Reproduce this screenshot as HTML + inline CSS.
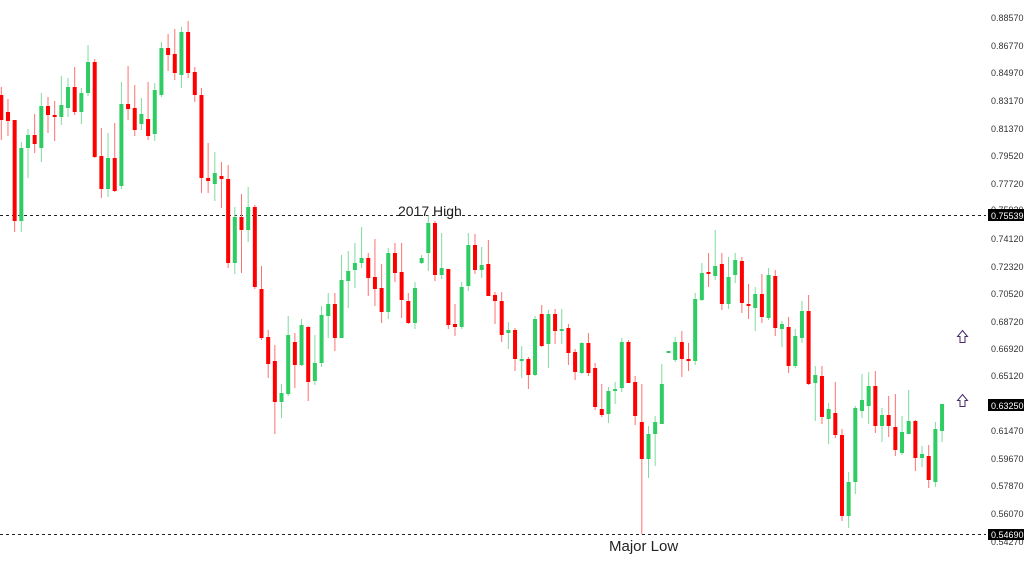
<!DOCTYPE html>
<html><head><meta charset="utf-8"><style>
html,body{margin:0;padding:0;background:#fff;}
svg{display:block;font-family:"Liberation Sans",sans-serif;}
</style></head><body>
<svg id="c" width="1024" height="565" viewBox="0 0 1024 565" xmlns="http://www.w3.org/2000/svg">
<rect width="1024" height="565" fill="#fff"/>
<line x1="0" y1="215.5" x2="986" y2="215.5" stroke="#222" stroke-dasharray="3,3" stroke-width="1"/>
<line x1="0" y1="534.5" x2="986" y2="534.5" stroke="#222" stroke-dasharray="3,3" stroke-width="1"/>
<g id="cd"></g>
<text x="398" y="216" font-size="14" fill="#222">2017 High</text>
<text x="609" y="551" font-size="15" fill="#222">Major Low</text>
<polygon points="962.5,330.5 967.5,336.5 965,336.5 965,342.5 960,342.5 960,336.5 957.5,336.5" fill="#fff" stroke="#4a2a6a" stroke-width="1"/>
<polygon points="962.5,394.5 967.5,400.5 965,400.5 965,406.5 960,406.5 960,400.5 957.5,400.5" fill="#fff" stroke="#4a2a6a" stroke-width="1"/>
<g font-size="9" fill="#333">
<text x="991" y="21">0.88570</text>
<text x="991" y="49">0.86770</text>
<text x="991" y="76">0.84970</text>
<text x="991" y="104">0.83170</text>
<text x="991" y="132">0.81370</text>
<text x="991" y="159">0.79520</text>
<text x="991" y="187">0.77720</text>
<text x="991" y="213">0.75920</text>
<text x="991" y="242">0.74120</text>
<text x="991" y="270">0.72320</text>
<text x="991" y="297">0.70520</text>
<text x="991" y="325">0.68720</text>
<text x="991" y="352">0.66920</text>
<text x="991" y="379">0.65120</text>
<text x="991" y="434">0.61470</text>
<text x="991" y="462">0.59670</text>
<text x="991" y="489">0.57870</text>
<text x="991" y="517">0.56070</text>
<text x="991" y="545">0.54270</text>
</g>
<rect x="988" y="209" width="36" height="12" fill="#000"/>
<text x="991" y="219" font-size="9" fill="#fff">0.75539</text>
<rect x="988" y="399" width="36" height="12" fill="#000"/>
<text x="991" y="409" font-size="9" fill="#fff">0.63250</text>
<rect x="988" y="529" width="36" height="11" fill="#000"/>
<text x="991" y="538" font-size="9" fill="#fff">0.54690</text>
</svg>
<script>
var d=[
"r,95,120,87,140","r,112,121,99,136","r,120,221,120,232","g,148,221,142,232","g,135,148,129,178",
"r,135,144,114,153","g,106,148,93,162","r,106,115,97,133","r,115,117,101,141","g,105,117,76,125",
"g,87,108,78,117","r,87,112,67,115","g,93,112,88,124","g,62,93,45,96","r,62,157,59,158",
"r,156,189,128,198","g,158,189,133,197","r,158,191,123,192","g,104,186,82,189","r,104,109,66,120",
"r,108,130,85,136","g,114,124,98,130","r,119,136,82,140","g,90,134,83,141","g,48,95,42,97",
"r,48,55,34,71","r,54,73,29,80","g,32,75,27,88","r,32,73,21,78","r,72,95,67,102",
"r,95,178,88,193","r,178,181,143,193","g,173,184,152,201","r,176,179,162,208","r,179,263,165,268",
"g,217,263,207,274","r,217,230,194,273","g,207,230,187,242","r,207,287,205,289","r,289,338,266,340",
"r,337,364,330,378","r,361,402,345,434","g,393,402,384,418","g,335,394,316,396","r,342,365,333,388",
"g,325,365,319,366","r,327,382,326,401","g,363,381,335,385","g,315,363,306,367","g,304,316,293,338",
"r,304,338,293,351","g,280,338,255,338","g,271,281,251,308","g,263,270,243,288","g,258,263,227,268",
"r,258,278,253,296","r,277,289,239,306","r,288,312,264,323","g,253,312,248,319","r,253,273,243,282",
"r,272,300,243,318","r,301,323,293,324","g,288,323,282,329","g,258,263,255,264","g,223,253,215,271",
"r,223,275,221,281","g,268,275,233,279","r,269,325,269,329","r,324,327,304,336","g,287,327,282,329",
"g,245,286,233,291","r,245,270,234,274","g,265,270,247,278","r,264,296,240,296","r,295,301,292,324",
"r,301,335,292,342","g,330,333,322,349","r,330,359,328,371","g,359,361,346,378","r,359,375,357,389",
"g,319,375,316,376","r,314,346,305,347","g,314,344,310,368","r,314,331,309,344","g,329,331,309,344",
"r,328,353,324,365","r,352,372,349,380","g,343,373,342,374","r,343,373,333,376","r,368,407,363,410",
"r,409,415,384,417","g,391,414,387,423","g,389,391,382,404","g,342,388,338,392","r,342,383,340,383",
"r,382,416,376,425","r,422,459,384,534","g,434,459,426,478","g,422,434,416,466","g,384,424,364,424",
"g,351,352,351,352","g,342,360,337,362","r,342,359,331,377","r,359,361,343,371","g,299,361,293,365",
"g,273,300,263,301","r,272,273,253,287","g,266,276,230,280","r,264,304,253,310","g,277,304,257,309",
"g,260,275,253,283","r,261,303,257,313","r,304,305,284,319","g,294,308,287,331","r,294,317,274,323",
"g,275,318,268,320","r,276,328,270,336","g,324,329,321,347","r,327,366,317,373","g,336,366,329,368",
"g,311,338,301,343","r,311,384,295,385","g,375,383,366,421","r,376,417,366,424","g,409,419,403,444",
"r,413,435,382,438","r,435,516,429,521","g,482,516,472,528","g,408,482,406,494","g,400,411,374,418",
"g,386,406,372,424","r,386,426,371,433","g,415,426,408,442","r,415,426,396,437","r,427,450,394,456",
"g,432,453,416,455","g,421,434,390,434","r,421,458,420,471","g,454,458,446,467","r,456,480,445,488",
"g,429,482,422,487","g,404,431,404,442"];
var g=document.getElementById('cd'),h="";
d.forEach(function(s,i){var p=s.split(','),c=p[0]=='r',x=1.3+6.672*i;
var bt=+p[1],bb=+p[2],wt=+p[3],wb=+p[4];if(bb-bt<2)bb=bt+2;
h+='<line x1="'+x+'" x2="'+x+'" y1="'+wt+'" y2="'+wb+'" stroke="'+(c?'#ff7070':'#7ddc9c')+'" stroke-width="1"/>';
h+='<rect x="'+(x-2)+'" y="'+bt+'" width="4" height="'+(bb-bt)+'" fill="'+(c?'#ff0000':'#2ecc63')+'"/>';});
g.innerHTML=h;
</script>
</body></html>
